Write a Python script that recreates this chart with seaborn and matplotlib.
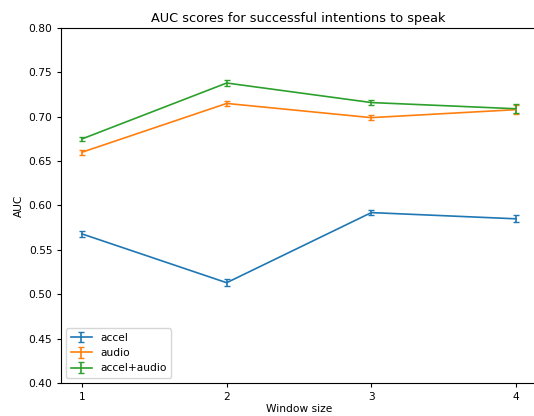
import matplotlib
matplotlib.use("Agg")
import matplotlib.pyplot as plt
import seaborn as sns
import pandas as pd

window_sizes = [1, 2, 3, 4]
series_names = ["accel", "audio", "accel+audio"]
accel_auc = [0.568, 0.513, 0.592, 0.585]
accel_err = [0.003, 0.004, 0.003, 0.004]
audio_auc = [0.660, 0.715, 0.699, 0.708]
audio_err = [0.003, 0.003, 0.003, 0.005]
both_auc = [0.675, 0.738, 0.716, 0.709]
both_err = [0.002, 0.003, 0.003, 0.005]

rows = []
for name, vals, errs in zip(series_names,
                            [accel_auc, audio_auc, both_auc],
                            [accel_err, audio_err, both_err]):
    for w, v, e in zip(window_sizes, vals, errs):
        rows.append({"window": w, "auc": v, "err": e, "features": name})
df = pd.DataFrame(rows)

palette = sns.color_palette("tab10", 3)

plt.rcParams.update({
    "font.size": 7.7,
    "xtick.major.size": 2.8,
    "ytick.major.size": 2.8,
    "axes.linewidth": 0.8,
})

# The plotting area runs past the right edge of the canvas.
fig = plt.figure(figsize=(5.34, 4.16), dpi=100)
ax = fig.add_axes([61 / 534, 33 / 416, 499 / 534, 355 / 416])

for color, name in zip(palette, series_names):
    sub = df[df["features"] == name]
    ax.errorbar(sub["window"], sub["auc"], yerr=sub["err"], color=color,
                capsize=2.5, linewidth=1.2, label=name)

ax.set_xlim(0.855, 4.304)
ax.set_ylim(0.40, 0.80)
ax.set_xticks(window_sizes)
ax.set_title("AUC scores for successful intentions to speak", pad=4.5,
             x=(298.5 - 61) / 499)
ax.set_xlabel("Window size", labelpad=3)
ax.xaxis.set_label_coords((299.5 - 61) / 499, -0.06)
ax.set_ylabel("AUC", labelpad=3)
ax.legend(loc="lower left")

fig.savefig("out.png", dpi=100)
